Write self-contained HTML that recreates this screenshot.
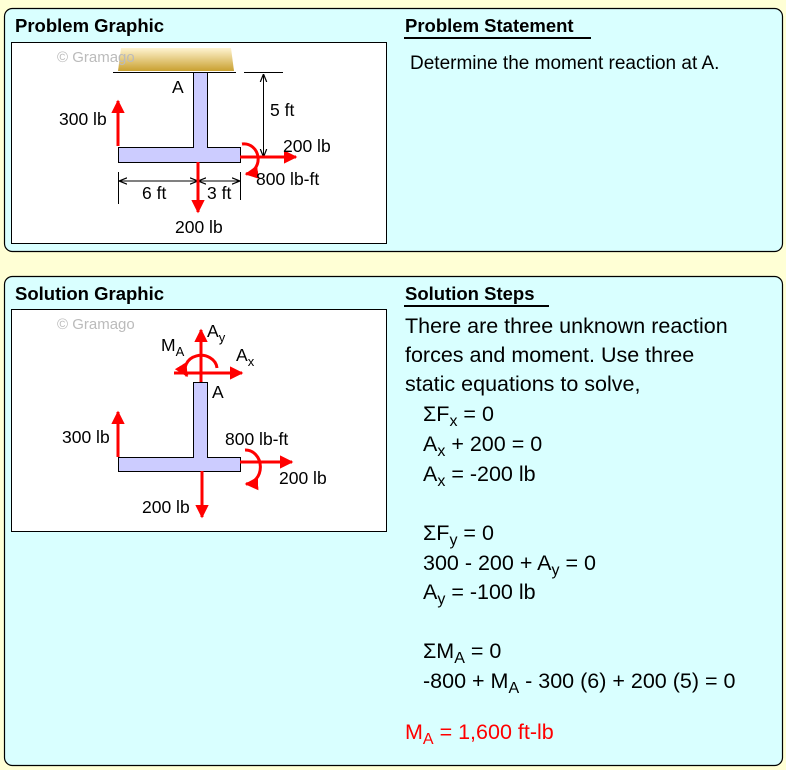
<!DOCTYPE html>
<html><head><meta charset="utf-8"><style>
body{margin:0;background:#ffffd5;}
svg{display:block;font-family:"Liberation Sans",Arial,sans-serif;}
</style></head><body>
<svg width="786" height="770" viewBox="0 0 786 770" xmlns="http://www.w3.org/2000/svg">
<defs>
<marker id="ar" viewBox="0 0 10 10" refX="9" refY="5" markerWidth="4.5" markerHeight="4.5" orient="auto-start-reverse"><path d="M0,0L10,5L0,10z" fill="#f00"/></marker>
<marker id="bk" viewBox="0 0 10 10" refX="10" refY="5" markerWidth="8" markerHeight="8" markerUnits="userSpaceOnUse" orient="auto-start-reverse"><path d="M0,1L10,5L0,9" fill="none" stroke="#000" stroke-width="1.5"/></marker>
<linearGradient id="gd" x1="0" y1="0" x2="0" y2="1"><stop offset="0" stop-color="#fff4d0"/><stop offset="1" stop-color="#c9a030"/></linearGradient>
</defs>
<rect width="786" height="770" fill="#ffffd5"/>
<rect x="4.5" y="8.5" width="778" height="243" rx="8" fill="#d9ffff" stroke="#000" stroke-width="1.2"/>
<rect x="4.5" y="276.5" width="778" height="489" rx="8" fill="#d9ffff" stroke="#000" stroke-width="1.2"/>
<g font-weight="bold" font-size="18.5">
<text x="15" y="32">Problem Graphic</text>
<text x="405" y="32">Problem Statement</text>
<text x="15" y="300">Solution Graphic</text>
<text x="405" y="300">Solution Steps</text>
</g>
<line x1="404" y1="38" x2="591" y2="38" stroke="#000" stroke-width="2"/>
<line x1="404" y1="306" x2="549" y2="306" stroke="#000" stroke-width="2"/>
<rect x="11.5" y="42.5" width="375" height="201" fill="#fff" stroke="#000"/>
<rect x="11.5" y="309.5" width="375" height="222" fill="#fff" stroke="#000"/>
<text x="410" y="69" font-size="19">Determine the moment reaction at A.</text>

<!-- problem graphic -->
<path d="M121,48L231,48L234,71L118,71z" fill="url(#gd)"/>
<text x="57" y="62" font-size="15" fill="#bbb">© Gramago</text>
<line x1="113" y1="72.5" x2="236" y2="72.5" stroke="#000"/>
<path d="M193.5,72.5V147.5H118.5V162.5H240.5V147.5H207.5V72.5z" fill="#ccccff" stroke="#000"/>
<text x="172" y="93" font-size="17.5">A</text>
<line x1="244" y1="72.5" x2="283" y2="72.5" stroke="#000"/>
<line x1="263.5" y1="74" x2="263.5" y2="157" stroke="#000" marker-start="url(#bk)" marker-end="url(#bk)"/>
<text x="270" y="116" font-size="17.5">5 ft</text>
<line x1="118" y1="146" x2="118" y2="101" stroke="#f00" stroke-width="3" marker-end="url(#ar)"/>
<text x="59" y="125" font-size="17.5">300 lb</text>
<line x1="240" y1="157" x2="296" y2="157" stroke="#f00" stroke-width="3" marker-end="url(#ar)"/>
<text x="283" y="152" font-size="17.5">200 lb</text>
<path d="M242,144A14,15 0 0 1 246,174" fill="none" stroke="#f00" stroke-width="3" marker-end="url(#ar)"/>
<text x="256" y="185" font-size="17.5">800 lb-ft</text>
<line x1="118.5" y1="172" x2="118.5" y2="204" stroke="#000"/>
<line x1="240.5" y1="172" x2="240.5" y2="200" stroke="#000"/>
<line x1="119" y1="181" x2="198" y2="181" stroke="#000" marker-start="url(#bk)" marker-end="url(#bk)"/>
<line x1="198" y1="181" x2="240" y2="181" stroke="#000" marker-start="url(#bk)" marker-end="url(#bk)"/>
<line x1="198" y1="162" x2="198" y2="212" stroke="#f00" stroke-width="3" marker-end="url(#ar)"/>
<text x="142" y="199" font-size="17.5">6 ft</text>
<text x="207" y="199" font-size="17.5">3 ft</text>
<text x="175" y="233" font-size="17.5">200 lb</text>

<!-- solution graphic -->
<text x="57" y="329" font-size="15" fill="#bbb">© Gramago</text>
<path d="M193.5,382.5V457.5H118.5V471.5H240.5V457.5H207.5V382.5z" fill="#ccccff" stroke="#000"/>
<line x1="201" y1="382" x2="201" y2="330" stroke="#f00" stroke-width="3" marker-end="url(#ar)"/>
<line x1="174" y1="373" x2="242" y2="373" stroke="#f00" stroke-width="3" marker-end="url(#ar)"/>
<path d="M217,368A16,14 0 1 0 187,376" fill="none" stroke="#f00" stroke-width="3" marker-end="url(#ar)"/>
<text x="161" y="351" font-size="17.5">M<tspan font-size="13" dy="5">A</tspan></text>
<text x="207" y="337" font-size="17.5">A<tspan font-size="13" dy="5">y</tspan></text>
<text x="236" y="361" font-size="17.5">A<tspan font-size="13" dy="5">x</tspan></text>
<text x="212" y="398" font-size="17.5">A</text>
<line x1="118" y1="457" x2="118" y2="412" stroke="#f00" stroke-width="3" marker-end="url(#ar)"/>
<text x="62" y="443" font-size="17.5">300 lb</text>
<text x="225" y="445" font-size="17.5">800 lb-ft</text>
<line x1="240" y1="462" x2="292" y2="462" stroke="#f00" stroke-width="3" marker-end="url(#ar)"/>
<text x="279" y="484" font-size="17.5">200 lb</text>
<path d="M245,450A14,16 0 0 1 246,484" fill="none" stroke="#f00" stroke-width="3" marker-end="url(#ar)"/>
<line x1="202" y1="471" x2="202" y2="517" stroke="#f00" stroke-width="3" marker-end="url(#ar)"/>
<text x="142" y="513" font-size="17.5">200 lb</text>

<!-- steps -->
<g font-size="21.5">
<text x="405" y="333">There are three unknown reaction</text>
<text x="405" y="362">forces and moment. Use three</text>
<text x="405" y="391">static equations to solve,</text>
<text x="423" y="421">ΣF<tspan font-size="16" dy="5">x</tspan><tspan dy="-5"> = 0</tspan></text>
<text x="423" y="451">A<tspan font-size="16" dy="5">x</tspan><tspan dy="-5"> + 200 = 0</tspan></text>
<text x="423" y="481">A<tspan font-size="16" dy="5">x</tspan><tspan dy="-5"> = -200 lb</tspan></text>
<text x="423" y="540">ΣF<tspan font-size="16" dy="5">y</tspan><tspan dy="-5"> = 0</tspan></text>
<text x="423" y="570">300 - 200 + A<tspan font-size="16" dy="5">y</tspan><tspan dy="-5"> = 0</tspan></text>
<text x="423" y="599">A<tspan font-size="16" dy="5">y</tspan><tspan dy="-5"> = -100 lb</tspan></text>
<text x="423" y="658">ΣM<tspan font-size="16" dy="5">A</tspan><tspan dy="-5"> = 0</tspan></text>
<text x="423" y="688">-800 + M<tspan font-size="16" dy="5">A</tspan><tspan dy="-5"> - 300 (6) + 200 (5) = 0</tspan></text>
<text x="405" y="739" fill="#f00">M<tspan font-size="16" dy="5">A</tspan><tspan dy="-5"> = 1,600 ft-lb</tspan></text>
</g>
</svg>
</body></html>
